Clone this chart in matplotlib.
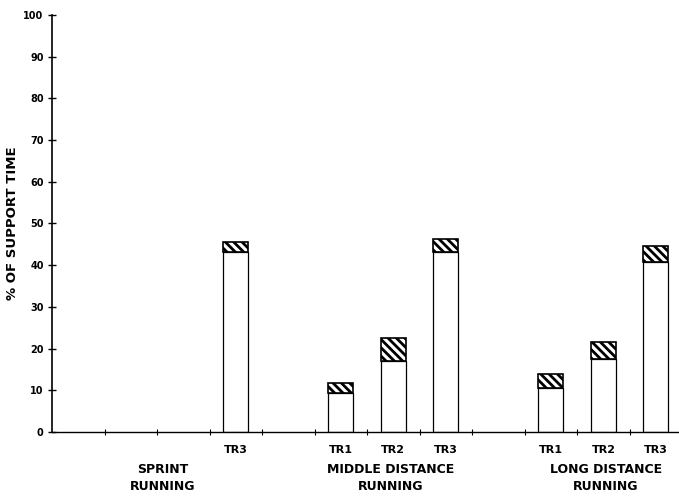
import matplotlib
matplotlib.use("Agg")
import matplotlib.pyplot as plt
import numpy as np

plt.rcParams['font.family'] = ['DejaVu Sans']
plt.rcParams['hatch.linewidth'] = 2.0

# data
bar_labels = ["TR3", "TR1", "TR2", "TR3", "TR1", "TR2", "TR3"]
bar_positions = [3.5, 5.5, 6.5, 7.5, 9.5, 10.5, 11.5]
white_part = [43.1, 9.4, 17.0, 43.1, 10.5, 17.4, 40.8]
total_height = [45.6, 11.7, 22.5, 46.2, 13.8, 21.5, 44.6]
group_labels = ["SPRINT\nRUNNING", "MIDDLE DISTANCE\nRUNNING", "LONG DISTANCE\nRUNNING"]
group_centers = [2.1, 6.45, 10.55]
yticks = [0, 10, 20, 30, 40, 50, 60, 70, 80, 90, 100]

hatched_part = [t - w for t, w in zip(total_height, white_part)]

fig = plt.figure(figsize=(6.79, 5.04), dpi=100)
ax = fig.add_axes([0.0766, 0.1429, 0.9234, 0.8274])

ax.bar(bar_positions, white_part, width=0.48, color="white", edgecolor="black", linewidth=0.9)
ax.bar(bar_positions, hatched_part, bottom=white_part, width=0.48, color="white",
       edgecolor="black", linewidth=1.2, hatch="\\\\\\\\")

ax.set_xlim(0, 11.94)
ax.set_ylim(0, 100)
ax.spines['top'].set_visible(False)
ax.spines['right'].set_visible(False)
ax.spines['left'].set_linewidth(1.2)
ax.spines['bottom'].set_linewidth(1.0)

ax.set_yticks(yticks)
ax.set_yticklabels([str(v) for v in yticks], fontsize=7, fontweight='bold')
ax.tick_params(axis='y', direction='inout', length=6, width=1, pad=3)
ax.set_xticks(np.arange(1, 12))
ax.set_xticklabels([])
ax.tick_params(axis='x', direction='inout', length=4, width=0.8)

for x, lab in zip(bar_positions, bar_labels):
    ax.text(x, -3.2, lab, ha='center', va='top', fontsize=8, fontweight='bold')
for x, lab in zip(group_centers, group_labels):
    ax.text(x, -7.5, lab, ha='center', va='top', fontsize=9, fontweight='bold',
            linespacing=1.4)

ax.set_ylabel("% OF SUPPORT TIME", fontsize=9.5, fontweight='bold')
ax.yaxis.set_label_coords(-0.052, 0.5)

fig.savefig("out.png", dpi=100)
